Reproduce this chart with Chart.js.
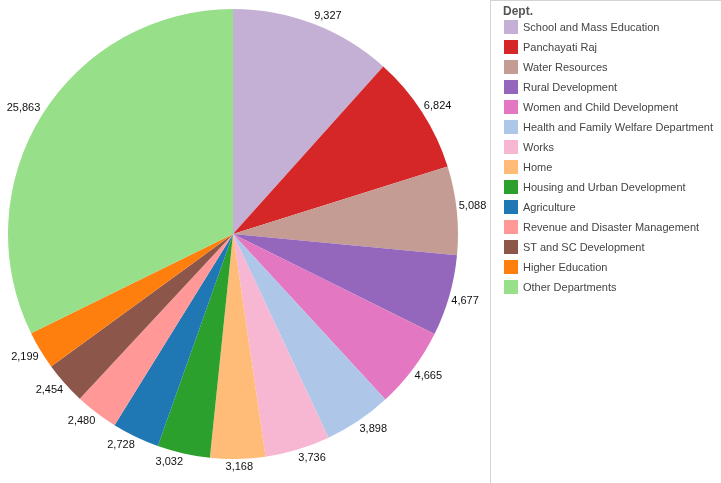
<!DOCTYPE html>
<html><head><meta charset="utf-8">
<script src="https://cdn.jsdelivr.net/npm/chart.js@4/dist/chart.umd.min.js"></script>
<style>
html,body{margin:0;padding:0;background:#fff;}
#wrap{position:relative;width:721px;height:483px;overflow:hidden;}
#c{position:absolute;left:0;top:0;}
#legend{position:absolute;left:490px;top:0;width:231px;height:483px;border-left:1px solid #d4d4d4;border-top:1px solid #d4d4d4;box-sizing:border-box;font-family:Arial,"Liberation Sans",sans-serif;}
#legend .title{position:absolute;left:12px;top:3px;font-size:12px;font-weight:bold;color:#555;}
#legend .row{position:absolute;left:13px;height:14px;font-size:11px;color:#444;white-space:nowrap;}
#legend .sw{position:absolute;left:0;top:0;width:14px;height:14px;}
#legend .tx{position:absolute;left:19px;top:0;line-height:14px;}
</style></head>
<body><div id="wrap"><canvas id="c" width="721" height="483"></canvas><div id="legend"></div></div>
<script>
const categories = ["School and Mass Education","Panchayati Raj","Water Resources","Rural Development","Women and Child Development","Health and Family Welfare Department","Works","Home","Housing and Urban Development","Agriculture","Revenue and Disaster Management","ST and SC Development","Higher Education","Other Departments"];
const values = [9327,6824,5088,4677,4665,3898,3736,3168,3032,2728,2480,2454,2199,25863];
const colors = ["#c5b0d5","#d62728","#c49c94","#9467bd","#e377c2","#aec7e8","#f7b6d2","#ffbb78","#2ca02c","#1f77b4","#ff9896","#8c564b","#ff7f0e","#98df8a"];
const legendTitle = "Dept.";

// legend
const lg = document.getElementById('legend');
const t = document.createElement('div'); t.className='title'; t.textContent=legendTitle; lg.appendChild(t);
categories.forEach((c,i)=>{
  const r=document.createElement('div'); r.className='row'; r.style.top=(19+20*i)+'px';
  r.innerHTML='<div class="sw" style="background:'+colors[i]+'"></div><div class="tx"></div>';
  r.querySelector('.tx').textContent=c; lg.appendChild(r);
});

const clamp=(v)=>Math.max(-1,Math.min(1,v));
const labelPlugin = {
  id:'outLabels',
  afterDatasetsDraw(chart){
    const ctx=chart.ctx; const meta=chart.getDatasetMeta(0);
    ctx.save();
    ctx.font='11px Arial, "Liberation Sans", sans-serif';
    ctx.fillStyle='#111';
    ctx.textBaseline='middle';
    const h=9;
    meta.data.forEach((arc,i)=>{
      const a=(arc.startAngle+arc.endAngle)/2; // canvas angle
      const s=Math.cos(a), c=Math.sin(a);
      const x=arc.x+s*(arc.outerRadius+2), y=arc.y+c*(arc.outerRadius+4);
      const txt=values[i].toLocaleString('en-US');
      const w=ctx.measureText(txt).width;
      const sx=clamp(s*5), sy=clamp(c*10);
      const left=x - w*(1-sx)/2;
      const cy=y + sy*h/2;
      ctx.fillText(txt,left,cy);
    });
    ctx.restore();
  }
};

new Chart(document.getElementById('c'),{
  type:'pie',
  data:{labels:categories,datasets:[{data:values,backgroundColor:colors,borderWidth:0}]},
  options:{
    responsive:false,animation:false,
    layout:{padding:{left:8,right:263,top:9,bottom:24}},
    plugins:{legend:{display:false},tooltip:{enabled:false}}
  },
  plugins:[labelPlugin]
});
</script></body></html>
